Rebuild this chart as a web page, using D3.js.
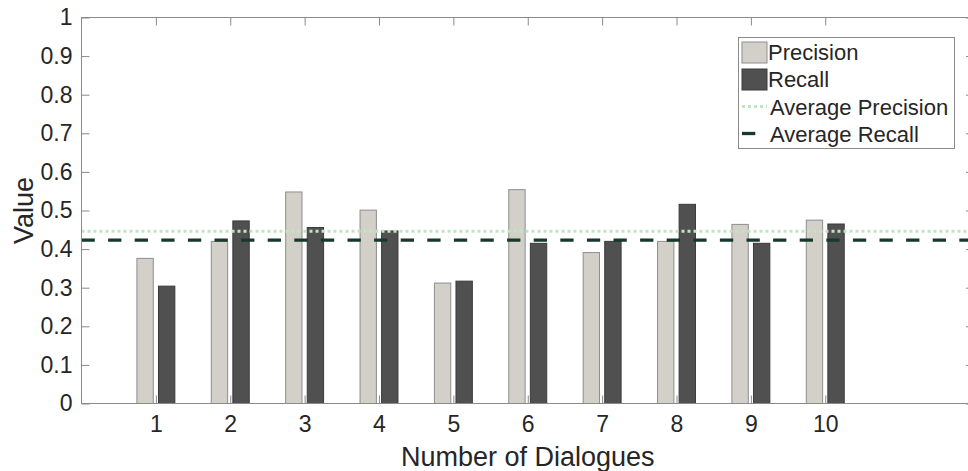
<!DOCTYPE html>
<meta charset="utf-8">
<style>
body { margin: 0; background: #fff; }
text {
  font-family: "Liberation Sans", Arial, Helvetica, sans-serif;
  fill: #262626;
}
.axis text { font-size: 23px; }
.axis line { stroke: #8a8a8a; }
.axis path { display: none; }
.label { font-size: 27px; }
.legend text { font-size: 22px; }
</style>
<body>
<svg width="968" height="471"></svg>
<script src="https://d3js.org/d3.v7.min.js"></script>
<script>

// data
var dialogues = [1, 2, 3, 4, 5, 6, 7, 8, 9, 10];
var precision = [0.376, 0.420, 0.548, 0.501, 0.312, 0.554, 0.391, 0.420, 0.464, 0.475];
var recall    = [0.304, 0.473, 0.456, 0.447, 0.317, 0.415, 0.420, 0.516, 0.415, 0.465];
var avgPrecision = 0.446;
var avgRecall = 0.423;
var yTicks = [0, 0.1, 0.2, 0.3, 0.4, 0.5, 0.6, 0.7, 0.8, 0.9, 1];
var legendLabels = ["Precision", "Recall", "Average Precision", "Average Recall"];

var svg = d3.select("svg");

var mLeft = 81.5, mRight = 974, mTop = 17.5, mBottom = 403.5;

var x = d3.scaleLinear().domain([0, 12]).range([mLeft, mRight]);
var y = d3.scaleLinear().domain([0, 1]).range([mBottom, mTop]);

var barW = 0.22, off = 0.145;
var pFill = "#d3d0c9", pStroke = "#8e8e8e";
var rFill = "#505050", rStroke = "#3a3a3a";
var green1 = "#c3e2c3", green2 = "#17392a";

// bottom axis first, so bars sit over the small inner ticks
var xAxis = svg.append("g")
    .attr("class", "axis")
    .attr("transform", "translate(0," + mBottom + ")")
    .call(d3.axisBottom(x).tickValues(dialogues).tickFormat(d3.format("d"))
      .tickSizeInner(-8).tickSizeOuter(0).tickPadding(12));
xAxis.selectAll("line").attr("stroke", "#c8c8c8");

// bars
svg.append("g").selectAll("rect")
    .data(dialogues)
  .enter().append("rect")
    .attr("x", function(d) { return x(d - off - barW / 2); })
    .attr("width", function(d) { return x(barW) - x(0); })
    .attr("y", function(d, i) { return y(precision[i]); })
    .attr("height", function(d, i) { return y(0) - y(precision[i]); })
    .attr("fill", pFill)
    .attr("stroke", pStroke);

svg.append("g").selectAll("rect")
    .data(dialogues)
  .enter().append("rect")
    .attr("x", function(d) { return x(d + off - barW / 2); })
    .attr("width", function(d) { return x(barW) - x(0); })
    .attr("y", function(d, i) { return y(recall[i]); })
    .attr("height", function(d, i) { return y(0) - y(recall[i]); })
    .attr("fill", rFill)
    .attr("stroke", rStroke);

// average lines
svg.append("line")
    .attr("x1", x(0)).attr("x2", x(12))
    .attr("y1", y(avgPrecision)).attr("y2", y(avgPrecision))
    .attr("stroke", green1)
    .attr("stroke-width", 3)
    .attr("stroke-dasharray", "3,3");

svg.append("line")
    .attr("x1", x(0)).attr("x2", x(12))
    .attr("y1", y(avgRecall)).attr("y2", y(avgRecall))
    .attr("stroke", green2)
    .attr("stroke-width", 3.3)
    .attr("stroke-dasharray", "13.3,13.3");

// axes
svg.append("g")
    .attr("class", "axis")
    .attr("transform", "translate(" + mLeft + ",0)")
    .call(d3.axisLeft(y).tickValues(yTicks).tickFormat(d3.format("~g"))
      .tickSizeInner(-8).tickSizeOuter(0).tickPadding(9));

svg.append("g")
    .attr("class", "axis")
    .attr("transform", "translate(" + mRight + ",0)")
    .call(d3.axisRight(y).tickValues(yTicks).tickFormat("")
      .tickSizeInner(-8).tickSizeOuter(0));

svg.append("g")
    .attr("class", "axis")
    .attr("transform", "translate(0," + mTop + ")")
    .call(d3.axisTop(x).tickValues(dialogues).tickFormat("")
      .tickSizeInner(-8).tickSizeOuter(0));

// frame
svg.append("rect")
    .attr("x", mLeft).attr("y", mTop)
    .attr("width", mRight - mLeft).attr("height", mBottom - mTop)
    .attr("fill", "none")
    .attr("stroke", "#8a8a8a");

// axis labels
svg.append("text")
    .attr("class", "label")
    .attr("x", (mLeft + mRight) / 2)
    .attr("y", 466)
    .attr("text-anchor", "middle")
    .text("Number of Dialogues");

svg.append("text")
    .attr("class", "label")
    .attr("transform", "translate(33," + (mTop + mBottom) / 2 + ") rotate(-90)")
    .attr("text-anchor", "middle")
    .text("Value");

// legend
var lg = svg.append("g").attr("class", "legend");
lg.append("rect")
    .attr("x", 738.5).attr("y", 37.5)
    .attr("width", 216).attr("height", 111)
    .attr("fill", "#fff")
    .attr("stroke", "#8a8a8a");

var rowY = [52, 79, 106.5, 133.5];

lg.append("rect")
    .attr("x", 742).attr("y", rowY[0] - 10)
    .attr("width", 25).attr("height", 21)
    .attr("fill", pFill).attr("stroke", pStroke);
lg.append("rect")
    .attr("x", 742).attr("y", rowY[1] - 10)
    .attr("width", 25).attr("height", 21)
    .attr("fill", rFill).attr("stroke", rStroke);
lg.append("line")
    .attr("x1", 742).attr("x2", 767)
    .attr("y1", rowY[2]).attr("y2", rowY[2])
    .attr("stroke", green1).attr("stroke-width", 3)
    .attr("stroke-dasharray", "3,3");
lg.append("line")
    .attr("x1", 742).attr("x2", 767)
    .attr("y1", rowY[3]).attr("y2", rowY[3])
    .attr("stroke", green2).attr("stroke-width", 3.3)
    .attr("stroke-dasharray", "13.3,13.3");

lg.selectAll("text.item")
    .data(legendLabels)
  .enter().append("text")
    .attr("class", "item")
    .attr("x", function(d, i) { return i < 2 ? 768 : 770; })
    .attr("y", function(d, i) { return rowY[i] + 8; })
    .text(function(d) { return d; });

</script>
</body>
